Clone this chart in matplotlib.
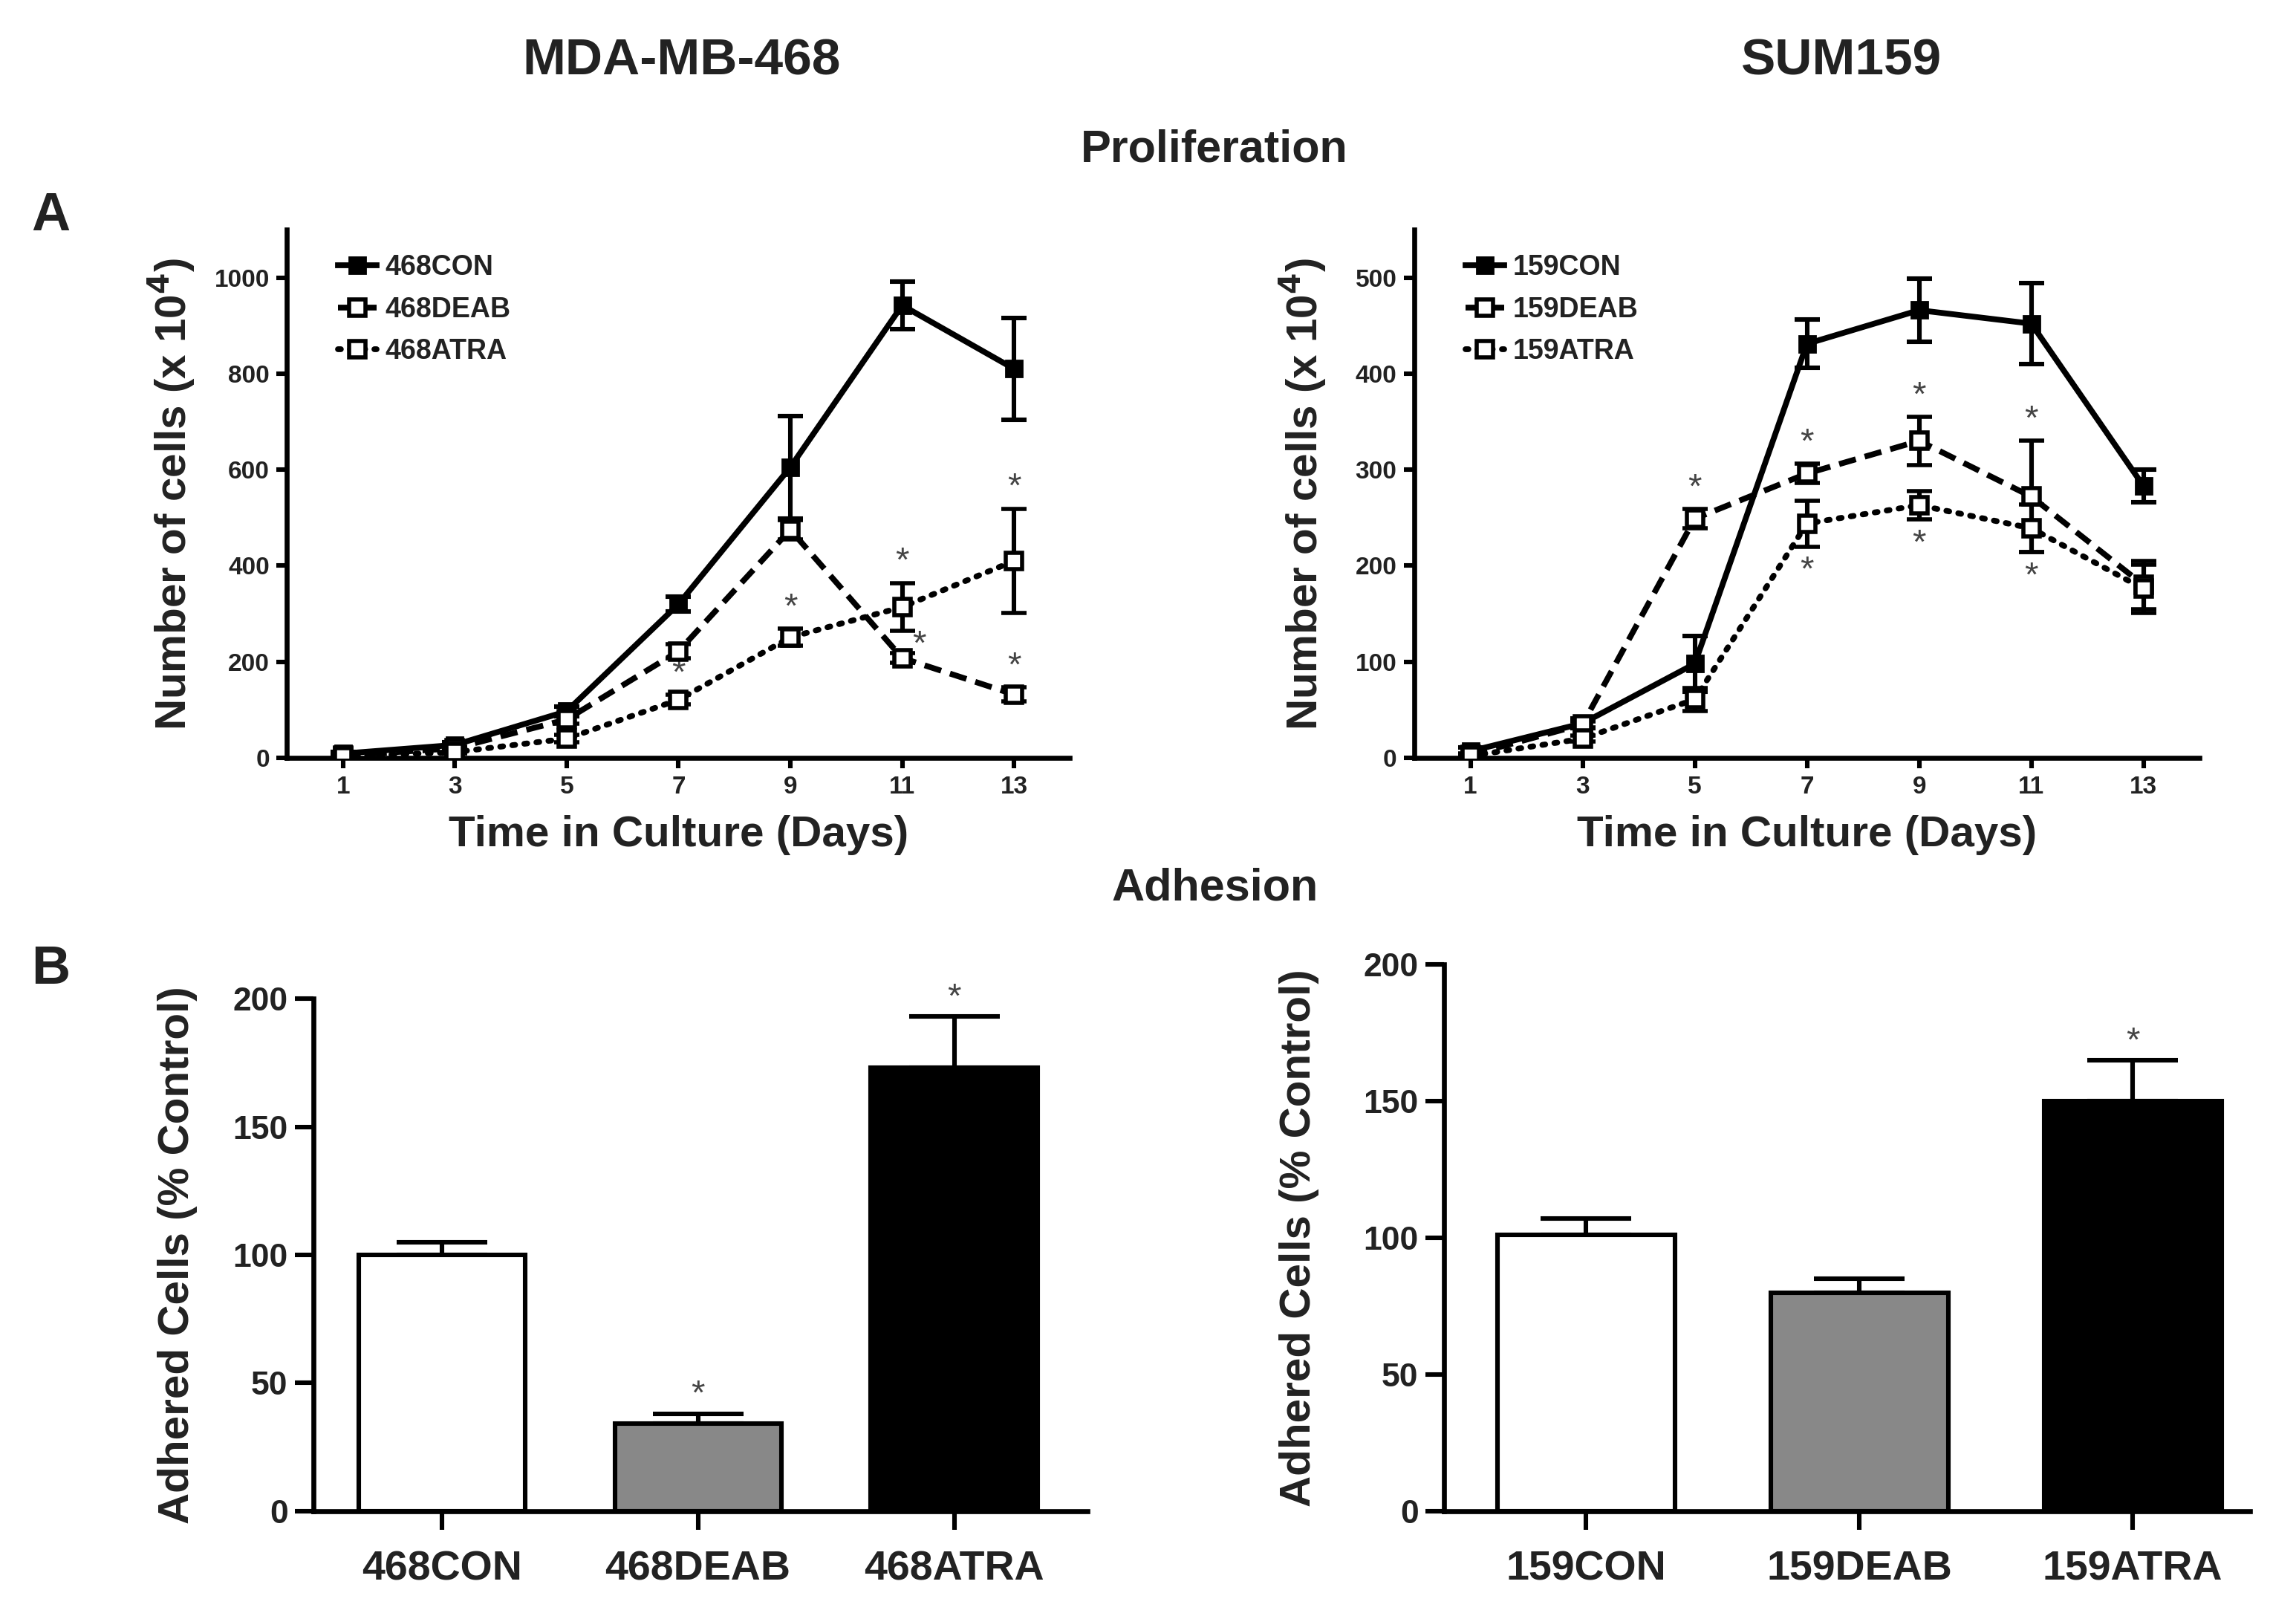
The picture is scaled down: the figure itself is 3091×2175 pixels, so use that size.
import matplotlib.pyplot as plt
import numpy as np

plt.rcParams['font.family'] = ['Liberation Sans', 'DejaVu Sans']
plt.rcParams['font.weight'] = 'bold'
plt.rcParams['axes.labelweight'] = 'bold'
TXT = '#222222'

# ---- proliferation data (cells x 10^4) ----
days = [1, 3, 5, 7, 9, 11, 13]

con468 = [9, 27, 97, 320, 605, 942, 810]
con468_err = [3, 5, 10, 15, 107, 49, 106]
deab468 = [5, 20, 80, 222, 475, 208, 132]
deab468_err = [2, 4, 8, 15, 20, 10, 15]
atra468 = [3, 12, 40, 121, 251, 314, 410]
atra468_err = [2, 3, 8, 10, 18, 50, 109]

con159 = [7, 36, 98, 431, 466, 452, 283]
con159_err = [4, 5, 29, 25, 33, 42, 17]
deab159 = [3, 35, 249, 296, 330, 272, 180]
deab159_err = [2, 3, 10, 10, 25, 58, 25]
atra159 = [2, 20, 61, 244, 263, 239, 176]
atra159_err = [2, 3, 12, 24, 15, 25, 25]

# significance marks: (series, day, where)
stars468 = [('ATRA', 7, 'above'), ('ATRA', 9, 'above'), ('ATRA', 11, 'above'),
            ('DEAB', 11, 'right'), ('ATRA', 13, 'above'), ('DEAB', 13, 'above')]
stars159 = [('DEAB', 5, 'above'), ('DEAB', 7, 'above'), ('ATRA', 7, 'below'),
            ('DEAB', 9, 'above'), ('ATRA', 9, 'below'), ('DEAB', 11, 'above'),
            ('ATRA', 11, 'below')]

# ---- adhesion data (% control) ----
groups468 = ['468CON', '468DEAB', '468ATRA']
adh468 = [100, 34, 173]
adh468_err = [5, 4, 20]
sig468 = [False, True, True]

groups159 = ['159CON', '159DEAB', '159ATRA']
adh159 = [101, 80, 150]
adh159_err = [6, 5, 15]
sig159 = [False, False, True]

bar_colors = ['white', '#888888', 'black']

fig = plt.figure(figsize=(3091 / 200, 2175 / 200), dpi=200)


def style_axes(ax, ticklen):
    for s in ['top', 'right']:
        ax.spines[s].set_visible(False)
    for s in ['left', 'bottom']:
        ax.spines[s].set_linewidth(2.4)
    ax.tick_params(width=2.2, length=ticklen, colors='black', labelcolor=TXT)


def star(ax, xy, off, ha='center'):
    ax.annotate('*', xy, xytext=off, textcoords='offset points', ha=ha, va='bottom',
                fontsize=17, color='#444444', fontweight='normal')


def line_panel(ax, prefix, con, con_e, deab, deab_e, atra, atra_e, stars, ymax, yticks):
    ebkw = dict(ecolor='black', elinewidth=2.2, capsize=6, capthick=2.2)
    c1 = ax.errorbar(days, con, yerr=con_e, color='black', lw=2.8, marker='s', ms=8,
                     mfc='black', mec='black', zorder=3, **ebkw)
    c2 = ax.errorbar(days, deab, yerr=deab_e, color='black', lw=2.8, marker='s', ms=8,
                     mfc='white', mec='black', mew=2, dashes=(3, 1.6), zorder=4, **ebkw)
    c3 = ax.errorbar(days, atra, yerr=atra_e, color='black', lw=2.8, marker='s', ms=8,
                     mfc='white', mec='black', mew=2, dashes=(0.5, 1.6),
                     dash_capstyle='round', zorder=4, **ebkw)
    series = {'DEAB': (deab, deab_e), 'ATRA': (atra, atra_e)}
    for name, d, where in stars:
        i = days.index(d)
        v, e = series[name][0][i], series[name][1][i]
        if where == 'above':
            star(ax, (d, v + e), (0, 2))
        elif where == 'below':
            star(ax, (d, v - e), (0, -20))
        else:
            star(ax, (d, v), (5, -2), ha='left')
    ax.set_xlim(0, 14)
    ax.set_ylim(0, ymax)
    ax.set_xticks(days)
    ax.set_yticks(yticks)
    ax.tick_params(labelsize=12)
    style_axes(ax, 5)
    ax.set_xlabel('Time in Culture (Days)', fontsize=21, color=TXT, labelpad=8)
    ax.set_ylabel('Number of cells (x 10$^4$)', fontsize=21, color=TXT)
    handles = [c1.lines[0], c2.lines[0], c3.lines[0]]
    labels = [prefix + 'CON', prefix + 'DEAB', prefix + 'ATRA']
    leg = ax.legend(handles, labels, loc='upper left', bbox_to_anchor=(0.04, 0.99),
                    frameon=False, fontsize=13.5, handlelength=1.4, handletextpad=0.3,
                    labelspacing=0.55, borderpad=0.2)
    for t in leg.get_texts():
        t.set_color(TXT)
    return ax


def bar_panel(ax, groups, vals, errs, sig):
    x = np.arange(len(groups))
    ax.bar(x, vals, width=0.65, color=bar_colors, edgecolor='black', linewidth=2.2,
           zorder=2)
    ax.errorbar(x, vals, yerr=[np.zeros(len(vals)), errs], fmt='none', ecolor='black',
                elinewidth=2.2, capsize=22, capthick=2.2, zorder=1)
    for xi, v, e, s in zip(x, vals, errs, sig):
        if s:
            star(ax, (xi, v + e), (0, 1))
    ax.set_ylim(0, 200)
    ax.set_yticks([0, 50, 100, 150, 200])
    ax.set_xticks(x)
    ax.set_xticklabels(groups)
    ax.tick_params(axis='y', labelsize=16)
    ax.tick_params(axis='x', labelsize=20, pad=10)
    style_axes(ax, 9)
    ax.set_ylabel('Adhered Cells (% Control)', fontsize=21, color=TXT)
    return ax


ax1 = fig.add_axes([0.125, 0.531, 0.341, 0.327])
line_panel(ax1, '468', con468, con468_err, deab468, deab468_err, atra468, atra468_err,
           stars468, 1100, [0, 200, 400, 600, 800, 1000])
ax1.yaxis.set_label_coords(-0.115, 0.5)

ax2 = fig.add_axes([0.616, 0.531, 0.342, 0.327])
line_panel(ax2, '159', con159, con159_err, deab159, deab159_err, atra159, atra159_err,
           stars159, 550, [0, 100, 200, 300, 400, 500])
ax2.yaxis.set_label_coords(-0.11, 0.5)

ax3 = fig.add_axes([0.1366, 0.065, 0.337, 0.317])
bar_panel(ax3, groups468, adh468, adh468_err, sig468)
ax3.set_xlim(-0.5, 2.52)
ax3.yaxis.set_label_coords(-0.15, 0.5)

ax4 = fig.add_axes([0.629, 0.065, 0.351, 0.338])
bar_panel(ax4, groups159, adh159, adh159_err, sig159)
ax4.set_xlim(-0.52, 2.43)
ax4.yaxis.set_label_coords(-0.155, 0.5)

fig.text(0.297, 0.962, 'MDA-MB-468', fontsize=25, ha='center', va='center', color=TXT)
fig.text(0.802, 0.962, 'SUM159', fontsize=25, ha='center', va='center', color=TXT)
fig.text(0.529, 0.907, 'Proliferation', fontsize=22, ha='center', va='center', color=TXT)
fig.text(0.529, 0.450, 'Adhesion', fontsize=22, ha='center', va='center', color=TXT)
fig.text(0.022, 0.866, 'A', fontsize=26, ha='center', va='center', color=TXT)
fig.text(0.022, 0.400, 'B', fontsize=26, ha='center', va='center', color=TXT)

fig.savefig('out.png', dpi=200, facecolor='white')
